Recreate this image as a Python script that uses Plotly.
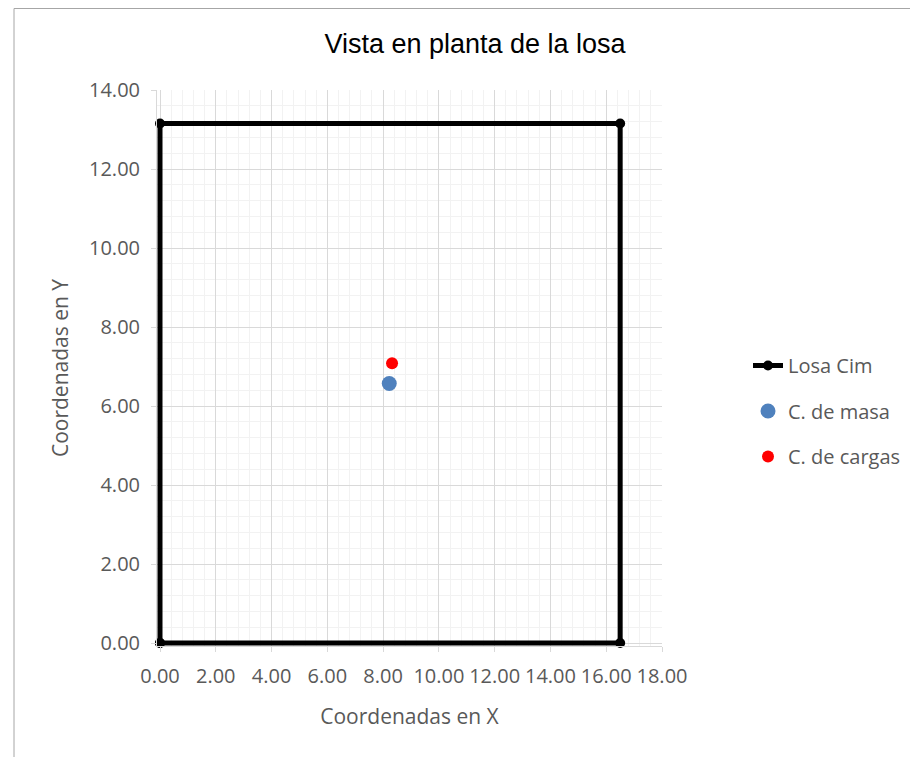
import plotly.graph_objects as go

# Data
losa_x = [0.0, 16.5, 16.5, 0.0, 0.0]
losa_y = [0.0, 0.0, 13.15, 13.15, 0.0]
masa_x = [8.22]
masa_y = [6.57]
cargas_x = [8.32]
cargas_y = [7.08]

W, H = 910, 749
PAD = 3  # px of extra room so the thick outline at 0 is not clipped
L, R, T, B = 152 - PAD, 256, 82, 114 - PAD
pw, ph = W - L - R, H - T - B
x0 = -PAD * 18 / (pw - PAD)
y0 = -PAD * 14 / (ph - PAD)

fig = go.Figure()
fig.add_trace(go.Scatter(x=losa_x, y=losa_y, mode="lines+markers", name="Losa Cim",
                         line=dict(color="black", width=5), cliponaxis=False,
                         marker=dict(color="black", size=10), legendgroup="a"))
fig.add_trace(go.Scatter(x=masa_x, y=masa_y, mode="markers", name="C. de masa",
                         marker=dict(color="#4F81BD", size=15), legendgroup="b"))
fig.add_trace(go.Scatter(x=cargas_x, y=cargas_y, mode="markers", name="C. de cargas",
                         marker=dict(color="#FF0000", size=12), legendgroup="c"))

axis_font = dict(family="Open Sans, sans-serif", size=20, color="#595959")
title_font = dict(family="Open Sans, sans-serif", size=21, color="#595959")
fig.update_xaxes(range=[x0, 18], tick0=0, dtick=2, tickformat=".2f", showline=True, linecolor="#D9D9D9",
                 gridcolor="#D9D9D9", zeroline=False, ticks="outside", ticklen=5, tickcolor="#D9D9D9",
                 tickfont=axis_font, ticklabelstandoff=7,
                 minor=dict(tick0=0, dtick=0.4, showgrid=True, gridcolor="#F2F2F2"),
                 title=dict(text="Coordenadas en X", font=title_font, standoff=21))
fig.update_yaxes(range=[y0, 14], tick0=0, dtick=2, tickformat=".2f", showline=True, linecolor="#D9D9D9",
                 gridcolor="#D9D9D9", zeroline=False, ticks="outside", ticklen=5, tickcolor="#D9D9D9",
                 tickfont=axis_font, ticklabelstandoff=7,
                 minor=dict(tick0=0, dtick=0.4, showgrid=True, gridcolor="#F2F2F2"),
                 title=dict(text="Coordenadas en Y", font=title_font, standoff=14))

fig.add_shape(type="rect", xref="paper", yref="paper",
              x0=(6 - L) / pw, x1=(W + 20 - L) / pw,
              y0=(H - B - (H + 20)) / ph, y1=(H - B - 0.5) / ph,
              line=dict(color="#A6A6A6", width=1), layer="below")

fig.update_layout(
    width=W, height=H,
    margin=dict(l=L, r=R, t=T, b=B),
    paper_bgcolor="white", plot_bgcolor="white",
    title=dict(text="Vista en planta de la losa", x=467 / W, xanchor="center", y=1 - 36 / H, yanchor="middle",
               font=dict(family="Liberation Sans, Arial, sans-serif", size=27, color="black")),
    legend=dict(x=(740 - L) / pw, xanchor="left", y=(H - B - 338) / ph, yanchor="top",
                font=dict(family="Open Sans, sans-serif", size=20, color="#595959"),
                tracegroupgap=16.5, bgcolor="rgba(0,0,0,0)"),
)

fig.write_html("out.html")
